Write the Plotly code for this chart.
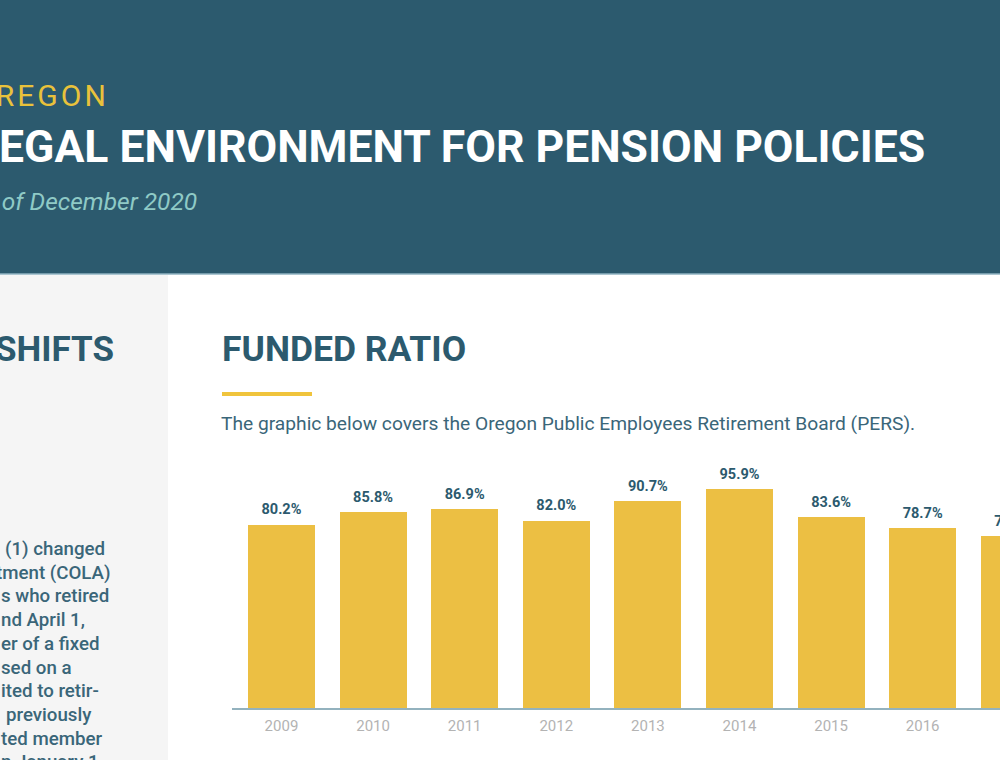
import plotly.graph_objects as go

# data
years = [2009, 2010, 2011, 2012, 2013, 2014, 2015, 2016, 2017]
year_labels = ["2009", "2010", "2011", "2012", "2013", "2014", "2015", "2016", "2017"]
funded_ratio = [80.2, 85.8, 86.9, 82.0, 90.7, 95.9, 83.6, 78.7, 75.3]
bar_text = [f"{v:.1f}%" for v in funded_ratio]

left_lines = [
    "(1) changed",
    "tment (COLA)",
    "s who retired",
    "nd April 1,",
    "er of a fixed",
    "sed on a",
    "ited to retir-",
    "previously",
    "ted member",
    "n January 1",
]
left_x = [3, -6, -1, -1, -1, -1, -1, 4, -1, -1]

W, H = 1000, 760
TEAL = "#2c5a6e"
TEXT_TEAL = "#3a6679"
GOLD = "#ecbf43"
FONT = "Roboto"


def px(x):
    return x / W


def py(y):
    return 1 - y / H


fig = go.Figure()

fig.add_trace(go.Bar(
    x=years, y=funded_ratio, width=0.73,
    marker=dict(color=GOLD, line=dict(width=0)),
    hoverinfo="skip",
))
# value labels sit a little higher than plotly's own outside text
fig.add_trace(go.Scatter(
    x=years, y=funded_ratio, mode="markers+text",
    marker=dict(size=9, opacity=0),
    text=bar_text, textposition="top center",
    textfont=dict(family=FONT, size=14.5, color=TEAL, weight="bold"),
    hoverinfo="skip",
))

shapes = [
    # header band
    dict(type="rect", xref="paper", yref="paper", x0=0, x1=1, y0=py(274), y1=1,
         fillcolor=TEAL, line_width=0, layer="below"),
    dict(type="line", xref="paper", yref="paper", x0=0, x1=1, y0=py(274), y1=py(274),
         line=dict(color="#8fb3c2", width=1.5), layer="below"),
    # left grey panel
    dict(type="rect", xref="paper", yref="paper", x0=0, x1=px(168), y0=0, y1=py(275),
         fillcolor="#f5f5f5", line_width=0, layer="below"),
    # gold underline under the section title
    dict(type="rect", xref="paper", yref="paper", x0=px(222), x1=px(312),
         y0=py(396), y1=py(392), fillcolor="#f0c43c", line_width=0, layer="below"),
]

annotations = [
    dict(text="O\u200aR\u200aE\u200aG\u200aO\u200aN", x=px(108), y=py(95), xanchor="right",
         font=dict(family=FONT, size=30, color="#e9c23b")),
    dict(text="LEGAL ENVIRONMENT FOR PENSION POLICIES", x=px(927), y=py(147), xanchor="right",
         font=dict(family=FONT, size=44.5, color="white", weight="bold")),
    dict(text="As of December 2020", x=px(199), y=py(201), xanchor="right",
         font=dict(family=FONT, size=24.5, color="#8fcac6", style="italic")),
    dict(text="SHIFTS", x=px(116), y=py(349), xanchor="right",
         font=dict(family=FONT, size=35, color=TEAL, weight="bold")),
    dict(text="FUNDED RATIO", x=px(220), y=py(349), xanchor="left",
         font=dict(family=FONT, size=35.5, color=TEAL, weight="bold")),
    dict(text="The graphic below covers the Oregon Public Employees Retirement Board (PERS).",
         x=px(219), y=py(423), xanchor="left",
         font=dict(family=FONT, size=19.2, color=TEXT_TEAL)),
]

for line, lx, i in zip(left_lines, left_x, range(len(left_lines))):
    annotations.append(dict(
        text=line, x=px(lx), y=py(549 + i * 23.7), xanchor="left",
        font=dict(family=FONT, size=18.7, color=TEXT_TEAL, weight=500),
    ))

for a in annotations:
    a.update(xref="paper", yref="paper", yanchor="middle", showarrow=False)

fig.update_layout(
    width=W, height=H,
    margin=dict(l=0, r=0, t=0, b=0),
    paper_bgcolor="white", plot_bgcolor="rgba(0,0,0,0)",
    showlegend=False,
    shapes=shapes, annotations=annotations,
    bargap=0,
    xaxis=dict(
        domain=[px(232), 1], range=[2008.46, 2016.844],
        tickvals=years, ticktext=year_labels,
        tickfont=dict(family="Liberation Sans Narrow, Roboto", size=15, color="#b3b3b3"),
        ticks="outside", ticklen=3, tickcolor="rgba(0,0,0,0)",
        showline=True, linecolor="#93b2be", linewidth=2,
        showgrid=False, zeroline=False, fixedrange=True,
    ),
    yaxis=dict(
        domain=[py(708), py(450)], range=[0, (708 - 450) / 2.285],
        visible=False, showgrid=False, zeroline=False, fixedrange=True,
    ),
)

fig.write_html("out.html", config={"displayModeBar": False},
               post_script="document.body.style.margin = '0';")
